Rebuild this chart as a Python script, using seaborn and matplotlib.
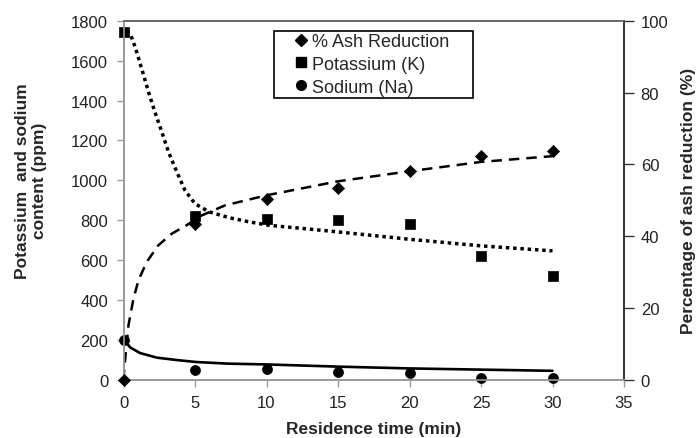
import matplotlib
matplotlib.use("Agg")
import matplotlib.pyplot as plt
from matplotlib.lines import Line2D
from matplotlib.patches import Rectangle
import seaborn as sns

# ---- data ----
time_min = [0, 5, 10, 15, 20, 25, 30]
ash_pct = [0, 43.5, 50.5, 53.4, 58.3, 62.3, 63.7]
potassium_ppm = [1742, 822, 805, 800, 780, 622, 522]
sodium_ppm = [200, 52, 55, 42, 33, 10, 10]

# trend lines
ash_trend_x = [0, 0.05, 0.19, 0.35, 0.7, 1.05, 1.63, 2.44, 3.37, 4.42, 5.47, 7.1, 10, 15, 20, 25, 30]
ash_trend_y = [0, 3.0, 8.8, 15.3, 22.7, 27.8, 32.9, 37.5, 40.7, 43.1, 45.8, 48.6, 51.4, 55.3, 58.1, 60.7, 62.3]
k_trend_x = [0.2, 0.47, 0.82, 1.28, 1.75, 2.2, 2.68, 3.15, 3.73, 4.3, 5.0, 6.0, 7.4, 8.8, 10.2, 15, 20, 25, 30]
k_trend_y = [1748, 1735, 1667, 1558, 1442, 1342, 1242, 1142, 1042, 950, 883, 842, 813, 792, 775, 742, 705, 672, 647]
na_trend_x = [0, 0.47, 1.16, 2.33, 3.72, 5.1, 7.3, 10, 15, 20, 25, 30]
na_trend_y = [205, 163, 135, 112, 100, 90, 82, 78, 67, 58, 52, 46]

legend_labels = ["% Ash Reduction", "Potassium (K)", "Sodium (Na)"]
x_ticks = [0, 5, 10, 15, 20, 25, 30, 35]
left_ticks = list(range(0, 1801, 200))
right_ticks = [0, 20, 40, 60, 80, 100]

sns.set_style("ticks")
plt.rcParams["font.family"] = ["Liberation Sans", "DejaVu Sans"]

W, H = 700, 439
fig = plt.figure(figsize=(7.0, 4.39), dpi=100)
ax = fig.add_axes([123.5 / W, 1 - 381 / H, (624 - 123.5) / W, (381 - 21.7) / H])
ax2 = ax.twinx()

# trend lines
sns.lineplot(x=k_trend_x, y=k_trend_y, ax=ax, color="black", lw=2.5,
             linestyle=(0, (1, 1.1)), sort=False, legend=False)
sns.lineplot(x=na_trend_x, y=na_trend_y, ax=ax, color="black", lw=1.9,
             sort=False, legend=False)
sns.lineplot(x=ash_trend_x, y=ash_trend_y, ax=ax2, color="black", lw=1.8,
             linestyle=(0, (4.2, 2.8)), sort=False, legend=False)

# data markers
sns.scatterplot(x=time_min, y=potassium_ppm, ax=ax, marker="s", s=46, color="black",
                edgecolor="black", linewidth=0.5, legend=False, clip_on=False, zorder=5)
sns.scatterplot(x=time_min, y=sodium_ppm, ax=ax, marker="o", s=52, color="black",
                edgecolor="black", linewidth=0.5, legend=False, clip_on=False, zorder=5)
sns.scatterplot(x=time_min, y=ash_pct, ax=ax2, marker="D", s=38, color="black",
                edgecolor="black", linewidth=0.5, legend=False, clip_on=False, zorder=5)

ax.set_xlim(0, 35)
ax.set_ylim(0, 1800)
ax2.set_ylim(0, 100)
ax.set_xticks(x_ticks)
ax.set_yticks(left_ticks)
ax2.set_yticks(right_ticks)

tick_color = "#222222"
fs_tick = 12
ax.tick_params(axis="y", direction="out", length=5, width=1, color="#999999",
               labelsize=fs_tick, labelcolor=tick_color, pad=6)
ax.tick_params(axis="x", direction="out", length=5, width=1, color="#999999",
               labelsize=fs_tick, labelcolor=tick_color, pad=6)
ax2.tick_params(axis="y", direction="out", length=7, width=1, color="#333333",
                labelsize=fs_tick, labelcolor=tick_color, pad=5)

for a in (ax, ax2):
    a.spines["left"].set_color("#999999")
    a.spines["bottom"].set_color("#999999")
    a.spines["top"].set_color("#666666")
    a.spines["right"].set_color("#333333")
    for s in a.spines.values():
        s.set_visible(True)
        s.set_linewidth(1.2)

fs_lab = 12.5
ax.set_xlabel("Residence time (min)", fontsize=fs_lab, fontweight="bold", labelpad=8)
ax.set_ylabel("")
ax2.set_ylabel("Percentage of ash reduction (%)", fontsize=fs_lab, fontweight="bold", labelpad=9)
fig.text(31 / W, 1 - 181 / H, "Potassium  and sodium\ncontent (ppm)", rotation=90,
         ha="center", va="center", fontsize=fs_lab, fontweight="bold", multialignment="center",
         linespacing=1.1)

# legend: frameless entries inside a drawn box
box = Rectangle((274 / W, 1 - 99 / H), (473 - 274) / W, (99 - 32) / H,
                transform=fig.transFigure, facecolor="white", edgecolor="black",
                linewidth=1.2, zorder=9)
fig.patches.append(box)
handles = [
    Line2D([], [], marker="D", ls="none", color="black", ms=6.2),
    Line2D([], [], marker="s", ls="none", color="black", ms=6.6),
    Line2D([], [], marker="o", ls="none", color="black", ms=7),
]
leg = fig.legend(handles, legend_labels, loc="upper left",
                 bbox_to_anchor=(296 / W, 1 - 34 / H), bbox_transform=fig.transFigure,
                 fontsize=13, frameon=False,
                 handlelength=0.6, handletextpad=0.3, borderpad=0, labelspacing=0.32,
                 borderaxespad=0)
leg.set_zorder(10)

fig.savefig("out.png", dpi=100)
